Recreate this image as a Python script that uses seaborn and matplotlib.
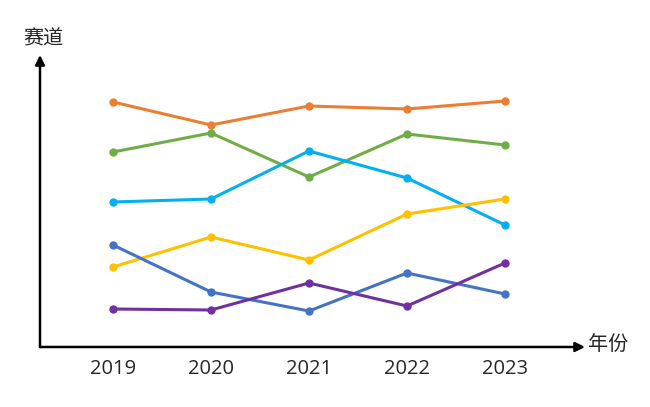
import matplotlib
matplotlib.use("Agg")
import matplotlib.pyplot as plt
import seaborn as sns
import pandas as pd

years = [2019, 2020, 2021, 2022, 2023]
series_names = ["A", "B", "C", "D", "E", "F"]
orange = [245, 222, 241, 238, 246]
green = [195, 214, 170, 213, 202]
cyan = [145, 148, 196, 169, 122]
yellow = [80, 110, 87, 133, 148]
blue = [102, 55, 36, 74, 53]
purple = [38, 37, 64, 41, 84]
colors = ["#ED7D31", "#70AD47", "#00B0F0", "#FFC000", "#4472C4", "#7030A0"]

rows = []
for name, vals in zip(series_names, [orange, green, cyan, yellow, blue, purple]):
    for y, v in zip(years, vals):
        rows.append({"年份": y, "值": v, "系列": name})
df = pd.DataFrame(rows)

sns.set_theme(style="white")
plt.rcParams['font.family'] = ['Noto Sans CJK SC', 'DejaVu Sans']

fig = plt.figure(figsize=(6.5, 4.07), dpi=100)
ax = fig.add_axes([40/650, 60/407, 545/650, 292/407])
sns.lineplot(data=df, x="年份", y="值", hue="系列", palette=colors, marker="o",
             markersize=6, markeredgewidth=0, linewidth=2.2, legend=False, ax=ax)
ax.set_xlim(2019 - 73/98, 2019 + 472/98)
ax.set_ylim(0, 292)
ax.set_xticks(years)
ax.set_xticklabels([str(y) for y in years], fontsize=14.5, family=['Open Sans', 'DejaVu Sans'])
ax.set_yticks([])
ax.tick_params(axis='x', length=0, pad=9)
ax.set_xlabel("")
ax.set_ylabel("")
for s in ax.spines.values():
    s.set_visible(False)
ax.annotate("", xy=(1, 0), xytext=(0, 0), xycoords="axes fraction",
            arrowprops=dict(arrowstyle="-|>", color="black", lw=1.8, mutation_scale=14, shrinkA=0, shrinkB=0))
ax.annotate("", xy=(0, 1), xytext=(0, 0), xycoords="axes fraction",
            arrowprops=dict(arrowstyle="-|>", color="black", lw=1.8, mutation_scale=14, shrinkA=0, shrinkB=0))
fig.text(43/650, 1 - 39/407, "赛道", ha="center", va="center", fontsize=14.5)
fig.text(588/650, 1 - 344/407, "年份", ha="left", va="center", fontsize=14.5)
fig.savefig("out.png", dpi=100, facecolor="white")
